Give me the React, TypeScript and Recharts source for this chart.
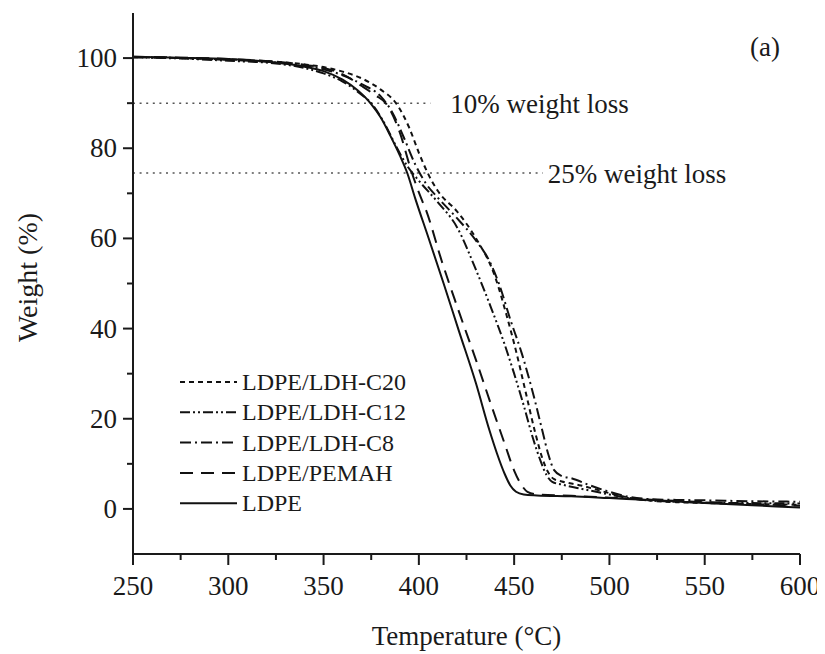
import React from 'react';
import { LineChart, Line, XAxis, YAxis, ReferenceLine } from 'recharts';

const FONT = '"Liberation Serif", "Times New Roman", serif';
const INK = '#1a1a1a';

const xTicks = [250, 275, 300, 325, 350, 375, 400, 425, 450, 475, 500, 525, 550, 575, 600];
const yTicks = [0, 10, 20, 30, 40, 50, 60, 70, 80, 90, 100];

const seriesNames = ['LDPE/LDH-C20', 'LDPE/LDH-C12', 'LDPE/LDH-C8', 'LDPE/PEMAH', 'LDPE'];

const tempC20 = [250, 275, 300, 325, 340, 350, 360, 370, 380, 388, 395, 400, 405, 410, 420, 430, 440, 446, 451, 456, 461, 465, 468, 471, 475, 485, 500, 510, 520, 535, 550, 575, 600];
const weightC20 = [100.2, 100.0, 99.7, 99.2, 98.6, 98.0, 97.0, 95.5, 93.0, 90.0, 84.5, 79.0, 74.2, 70.5, 66.0, 60.0, 51.5, 43.0, 35.0, 26.0, 17.0, 11.0, 8.0, 6.6, 6.1, 5.2, 3.5, 2.5, 1.9, 1.5, 1.3, 1.1, 0.9];

const tempC12 = [250, 275, 300, 325, 340, 350, 360, 368, 376, 382, 388, 394, 400, 410, 420, 430, 438, 445, 450, 455, 460, 464, 467, 470, 475, 485, 500, 510, 520, 535, 550, 575, 600];
const weightC12 = [100.2, 99.9, 99.4, 98.8, 97.8, 96.6, 94.8, 92.5, 89.5, 85.5, 80.5, 76.0, 72.8, 68.0, 62.5, 53.0, 44.5, 36.5, 30.0, 23.0, 15.5, 10.5, 7.5, 6.0, 5.4, 4.5, 3.2, 2.4, 1.9, 1.6, 1.4, 1.3, 1.2];

const tempC8 = [250, 275, 300, 325, 340, 350, 360, 370, 380, 386, 392, 398, 404, 410, 420, 430, 437, 442, 448, 454, 460, 465, 468, 471, 475, 480, 490, 500, 510, 520, 535, 550, 575, 600];
const weightC8 = [100.2, 100.0, 99.6, 99.0, 98.3, 97.5, 96.2, 94.2, 91.5, 88.0, 82.5, 76.5, 72.0, 69.0, 64.5, 59.5, 55.0, 50.0, 42.0, 34.5, 25.5, 17.0, 12.0, 8.6, 7.3, 6.8, 5.2, 3.8, 2.7, 2.2, 2.0, 1.9, 1.7, 1.6];

const tempPEMAH = [250, 275, 300, 325, 340, 350, 360, 370, 377, 383, 390, 396, 400, 404, 412, 420, 430, 438, 445, 450, 454, 457, 462, 480, 500, 525, 550, 575, 600];
const weightPEMAH = [100.3, 100.1, 99.8, 99.2, 98.5, 97.8, 96.4, 93.8, 91.8, 89.8, 83.5, 75.0, 70.2, 66.0, 55.0, 45.0, 33.0, 23.0, 14.5, 8.5, 5.2, 3.8, 3.2, 2.9, 2.5, 2.0, 1.5, 1.1, 0.7];

const tempLDPE = [250, 275, 300, 325, 340, 350, 360, 368, 375, 380, 385, 390, 394, 398, 405, 413, 421, 430, 437, 441, 445, 448, 451, 455, 462, 480, 500, 525, 550, 575, 600];
const weightLDPE = [100.3, 100.1, 99.8, 99.0, 98.1, 97.1, 95.2, 92.8, 89.8, 86.8, 82.8, 78.4, 74.4, 69.0, 60.2, 50.0, 39.5, 27.8, 17.5, 12.3, 7.8, 5.2, 3.8, 3.2, 3.0, 2.8, 2.4, 1.9, 1.3, 0.8, 0.3];

const lossLevels = [90, 74.5];
const lossLabels = ['10% weight loss', '25% weight loss'];
const lossEnds = [406, 465];

const toPoints = (t: number[], w: number[]) => t.map((x, i) => ({ t: x, w: w[i] }));

const series = [
  { name: seriesNames[0], data: toPoints(tempC20, weightC20), dash: '5 4' },
  { name: seriesNames[1], data: toPoints(tempC12, weightC12), dash: '10 3 2 3 2 3' },
  { name: seriesNames[2], data: toPoints(tempC8, weightC8), dash: '11 4 2 4' },
  { name: seriesNames[3], data: toPoints(tempPEMAH, weightPEMAH), dash: '13 8' },
  { name: seriesNames[4], data: toPoints(tempLDPE, weightLDPE), dash: undefined as string | undefined },
];

const XTick = (props: any) => {
  const { x, y, payload } = props;
  const major = payload.value % 50 === 0;
  return (
    <g>
      <line x1={x} x2={x} y1={y} y2={y + (major ? 11 : 6)} stroke={INK} strokeWidth={2} />
      {major && (
        <text x={x} y={y + 41} textAnchor="middle" fontSize={27} fontFamily={FONT} fill={INK}>
          {payload.value}
        </text>
      )}
    </g>
  );
};

const YTick = (props: any) => {
  const { x, y, payload } = props;
  const major = payload.value % 20 === 0;
  return (
    <g>
      <line x1={x - (major ? 10 : 6)} x2={x} y1={y} y2={y} stroke={INK} strokeWidth={2} />
      {major && (
        <text x={x - 16} y={y + 9} textAnchor="end" fontSize={27} fontFamily={FONT} fill={INK}>
          {payload.value}
        </text>
      )}
    </g>
  );
};

const YTitle = (props: any) => {
  const vb = props.viewBox;
  const cx = 29;
  const cy = vb.y + vb.height / 2 - 6;
  return (
    <text x={cx} y={cy} transform={`rotate(-90, ${cx}, ${cy})`} textAnchor="middle" fontSize={28} fontFamily={FONT} fill={INK}>
      Weight (%)
    </text>
  );
};

const XTitle = (props: any) => {
  const vb = props.viewBox;
  return (
    <text x={vb.x + vb.width / 2} y={637} textAnchor="middle" fontSize={27} fontFamily={FONT} fill={INK}>
      Temperature (°C)
    </text>
  );
};

export default function App() {
  return (
    <div style={{ position: 'relative', width: 817, height: 646, background: '#fff' }}>
      <LineChart width={817} height={646} margin={{ top: 5, right: 25, bottom: 0, left: 0 }}>
        <XAxis
          dataKey="t"
          type="number"
          domain={[250, 600]}
          ticks={xTicks}
          interval={0}
          allowDataOverflow
          height={100}
          tickSize={0}
          tickMargin={0}
          tickLine={false}
          tick={XTick}
          axisLine={{ stroke: INK, strokeWidth: 2 }}
          label={<XTitle />}
        />
        <XAxis
          xAxisId="top"
          orientation="top"
          type="number"
          domain={[250, 600]}
          height={0}
          tick={false}
          tickLine={false}
          axisLine={{ stroke: INK, strokeWidth: 1.5 }}
        />
        <YAxis
          type="number"
          domain={[-10, 110]}
          ticks={yTicks}
          interval={0}
          allowDataOverflow
          width={125}
          tickSize={0}
          tickMargin={0}
          tickLine={false}
          tick={YTick}
          axisLine={{ stroke: INK, strokeWidth: 2 }}
          label={<YTitle />}
        />
        <YAxis
          yAxisId="right"
          orientation="right"
          type="number"
          domain={[-10, 110]}
          width={0}
          tick={false}
          tickLine={false}
          axisLine={{ stroke: INK, strokeWidth: 1.5 }}
        />
        {lossLevels.map((lv, i) => (
          <ReferenceLine
            key={lossLabels[i]}
            segment={[{ x: 250, y: lv }, { x: lossEnds[i], y: lv }]}
            stroke="#555"
            strokeWidth={1.5}
            strokeDasharray="2 4.6"
            ifOverflow="visible"
            label={{
              value: lossLabels[i],
              position: 'right',
              offset: i === 0 ? 20 : 5,
              fontSize: 27,
              fontFamily: FONT,
              fill: INK,
            }}
          />
        ))}
        {series.map((s) => (
          <Line
            key={s.name}
            data={s.data}
            dataKey="w"
            type="monotone"
            dot={false}
            activeDot={false}
            stroke="#111"
            strokeWidth={2}
            strokeDasharray={s.dash}
            isAnimationActive={false}
          />
        ))}
      </LineChart>
      <svg
        width={817}
        height={646}
        style={{ position: 'absolute', left: 0, top: 0, pointerEvents: 'none' }}
      >
        {series.map((s, i) => {
          const cy = 374 + i * 30.3;
          return (
            <g key={s.name}>
              <line x1={172} x2={229} y1={cy} y2={cy} stroke="#111" strokeWidth={2} strokeDasharray={s.dash} />
              <text x={234} y={cy + 8} fontSize={24} fontFamily={FONT} fill={INK}>
                {s.name}
              </text>
            </g>
          );
        })}
        <text x={742} y={48} fontSize={27} fontFamily={FONT} fill={INK}>
          (a)
        </text>
      </svg>
    </div>
  );
}
